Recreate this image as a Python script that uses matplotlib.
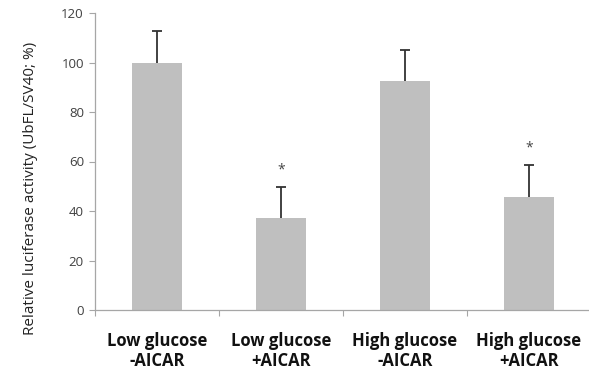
import numpy as np
import matplotlib
matplotlib.use("Agg")
import matplotlib.pyplot as plt

# ── Data ─────────────────────────────────────────────────────────────────────
categories = ["Low glucose\n-AICAR", "Low glucose\n+AICAR",
              "High glucose\n-AICAR", "High glucose\n+AICAR"]
values = [100, 37, 92.5, 45.8]
errors = [12.8, 12.5, 12.7, 12.8]
significant = [False, True, False, True]

plt.rcParams["font.family"] = ["Open Sans", "DejaVu Sans"]

fig = plt.figure(figsize=(5.89, 3.71), dpi=100)
ax = fig.add_axes([95 / 589, 1 - 310 / 371, 496 / 589, (310 - 13) / 371])

x = np.arange(len(categories))
ax.bar(x, values, width=0.4, color="#bfbfbf", zorder=2)
# upper error bars only: hide the lower cap
_, caps, _ = ax.errorbar(x, values, yerr=[np.zeros(len(errors)), errors], fmt="none",
                         ecolor="#333333", elinewidth=1.3, capsize=3.5, capthick=1.3, zorder=3)
caps[0].set_visible(False)

for xi, v, e, sig in zip(x, values, errors, significant):
    if sig:
        ax.text(xi, v + e + 7, "*", ha="center", va="center", fontsize=10, color="#444444")

ax.set_xlim(-0.5, 3.5)
ax.set_ylim(0, 120)
ax.set_yticks(range(0, 121, 20))
ax.tick_params(axis="y", direction="out", length=4, color="#a6a6a6",
               labelsize=9.5, labelcolor="#404040", pad=4)

# category-boundary ticks on the x axis, labels in between
ax.set_xticks([-0.5, 0.5, 1.5, 2.5])
ax.set_xticklabels([])
ax.set_xticks(x, minor=True)
ax.set_xticklabels(categories, minor=True, fontsize=12, fontweight="bold",
                   color="#111111", linespacing=1.15)
ax.tick_params(axis="x", which="major", direction="out", length=4, color="#a6a6a6")
ax.tick_params(axis="x", which="minor", length=0, pad=16)

for s in ["top", "right"]:
    ax.spines[s].set_visible(False)
for s in ["left", "bottom"]:
    ax.spines[s].set_color("#a6a6a6")
    ax.spines[s].set_linewidth(0.9)

ax.set_ylabel("Relative luciferase activity (UbFL/SV40; %)", fontsize=11,
              color="#222222", labelpad=14)
ax.yaxis.set_label_coords(-0.115, 0.41)

fig.savefig("out.png", dpi=100)
